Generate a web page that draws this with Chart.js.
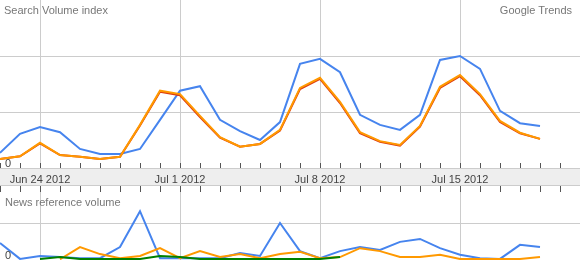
<!DOCTYPE html>
<html>
<head>
<meta charset="utf-8">
<script src="https://cdn.jsdelivr.net/npm/chart.js@4.4.0/dist/chart.umd.min.js"></script>
<style>
  body { margin: 0; background: #fff; font-family: 'Liberation Sans', Arial, sans-serif; }
  #wrap { position: relative; width: 580px; height: 260px; overflow: hidden; }
  #searchChart { position: absolute; left: 0; top: 0; }
  #newsChart { position: absolute; left: 0; top: 186px; }
  .lbl { position: absolute; font-size: 11px; color: #777; white-space: nowrap; }
  .axis { position: absolute; font-size: 11px; color: #444; white-space: nowrap; }
</style>
</head>
<body>
<div id="wrap">
  <canvas id="searchChart" width="580" height="186"></canvas>
  <canvas id="newsChart" width="580" height="74"></canvas>
  <div class="lbl" style="left:4px;top:4px">Search Volume index</div>
  <div class="lbl" style="right:8px;top:4px">Google Trends</div>
  <div class="lbl" style="left:5px;top:196px">News reference volume</div>
</div>
<script>
// days on the x axis (one point per day)
const days = [
    'Jun 22 2012', 'Jun 23 2012', 'Jun 24 2012', 'Jun 25 2012', 'Jun 26 2012', 'Jun 27 2012',
    'Jun 28 2012', 'Jun 29 2012', 'Jun 30 2012', 'Jul 1 2012', 'Jul 2 2012', 'Jul 3 2012',
    'Jul 4 2012', 'Jul 5 2012', 'Jul 6 2012', 'Jul 7 2012', 'Jul 8 2012', 'Jul 9 2012',
    'Jul 10 2012', 'Jul 11 2012', 'Jul 12 2012', 'Jul 13 2012', 'Jul 14 2012', 'Jul 15 2012',
    'Jul 16 2012', 'Jul 17 2012', 'Jul 18 2012', 'Jul 19 2012', 'Jul 20 2012', 'Jul 21 2012'
];
const tickLabels = ['Jun 24 2012', 'Jul 1 2012', 'Jul 8 2012', 'Jul 15 2012'];

// search volume index
const searchBlue = [0.27, 0.61, 0.73, 0.64, 0.34, 0.25, 0.25, 0.34, 0.86, 1.38, 1.46, 0.86, 0.66, 0.50,
    0.82, 1.86, 1.95, 1.71, 0.95, 0.77, 0.68, 0.95, 1.93, 2.00, 1.77, 1.02, 0.80, 0.75];
const searchRed = [0.16, 0.21, 0.44, 0.23, 0.20, 0.16, 0.20, 0.76, 1.36, 1.30, 0.91, 0.54, 0.38, 0.43,
    0.67, 1.41, 1.59, 1.16, 0.62, 0.47, 0.40, 0.74, 1.43, 1.64, 1.30, 0.82, 0.62, 0.52];
const searchOrange = [0.16, 0.21, 0.45, 0.23, 0.20, 0.16, 0.20, 0.77, 1.38, 1.32, 0.93, 0.55, 0.38, 0.43,
    0.68, 1.43, 1.61, 1.18, 0.64, 0.48, 0.41, 0.75, 1.45, 1.66, 1.32, 0.84, 0.63, 0.52];

// news reference volume
const newsBlue = [0.46, 0.03, 0.11, 0.08, 0.05, 0.05, 0.35, 1.32, 0.05, 0.05, 0.05, 0.05, 0.19, 0.11,
    1.00, 0.24, 0.05, 0.24, 0.35, 0.27, 0.49, 0.57, 0.32, 0.14, 0.05, 0.03, 0.41, 0.35];
const newsOrange = [null, null, null, 0.02, 0.35, 0.16, 0.05, 0.11, 0.32, 0.05, 0.24, 0.08, 0.16, 0.05,
    0.16, 0.22, 0.05, 0.08, 0.32, 0.24, 0.08, 0.08, 0.14, 0.03, 0.03, 0.03, 0.03, 0.08];
const newsGreen = [null, null, 0.03, 0.08, 0.03, 0.03, 0.03, 0.03, 0.11, 0.08, 0.03, 0.03, 0.03, 0.03,
    0.03, 0.03, 0.03, 0.08];

const gridColor = '#cccccc';
const wrap = document.getElementById('wrap');

// grey date band under the search chart
const bandPlugin = {
    id: 'band',
    beforeDraw(chart) {
        const { ctx, chartArea } = chart;
        ctx.save();
        ctx.fillStyle = '#eeeeee';
        ctx.fillRect(0, chartArea.bottom, chart.width, chart.height - chartArea.bottom);
        ctx.fillStyle = gridColor;
        ctx.fillRect(0, chartArea.bottom, chart.width, 1);
        ctx.fillRect(0, chart.height - 1, chart.width, 1);
        ctx.restore();
    }
};

// small day tick marks next to the band
const tickMarks = {
    id: 'tickMarks',
    beforeDatasetsDraw(chart, args, opts) {
        const { ctx, chartArea } = chart;
        const xs = chart.scales.x;
        const y0 = opts.side === 'top' ? chartArea.bottom - 5 : chartArea.top;
        const y1 = opts.side === 'top' ? chartArea.bottom : chartArea.top + 6;
        ctx.save();
        ctx.strokeStyle = '#555';
        ctx.lineWidth = 1;
        ctx.beginPath();
        days.forEach(function(d, i) {
            const px = Math.round(xs.getPixelForValue(i)) + 0.5;
            ctx.moveTo(px, y0);
            ctx.lineTo(px, y1);
        });
        ctx.stroke();
        ctx.restore();
    }
};

function weekGrid(c) {
    return tickLabels.includes(days[c.index]) ? gridColor : 'rgba(0,0,0,0)';
}

function lineSet(data, color, order) {
    return { data: data, borderColor: color, borderWidth: 2, pointRadius: 0, tension: 0, fill: false, order: order };
}

function baseOptions(maxY, bandHeight, side) {
    return {
        responsive: false,
        animation: false,
        events: [],
        layout: { padding: 0 },
        plugins: { legend: { display: false }, tooltip: { enabled: false }, tickMarks: { side: side } },
        scales: {
            x: {
                type: 'category',
                offset: false,
                ticks: { display: false },
                grid: { drawTicks: false, color: weekGrid },
                border: { display: false },
                afterFit: function(s) { s.height = bandHeight; }
            },
            y: {
                min: 0,
                max: maxY,
                ticks: { display: false, stepSize: 1 },
                grid: {
                    drawTicks: false,
                    color: function(c) { return (c.tick.value > 0 && c.tick.value < maxY) ? gridColor : 'rgba(0,0,0,0)'; }
                },
                border: { display: false },
                afterFit: function(s) { s.width = 0; }
            }
        }
    };
}

// text label placed through the chart's scales
function addLabel(text, left, top, centered) {
    const el = document.createElement('div');
    el.className = 'axis';
    el.textContent = text;
    el.style.left = left + 'px';
    el.style.top = top + 'px';
    if (centered) el.style.transform = 'translateX(-50%)';
    wrap.appendChild(el);
}

const searchChart = new Chart(document.getElementById('searchChart').getContext('2d'), {
    type: 'line',
    data: {
        labels: days,
        datasets: [
            lineSet(searchBlue, '#4684ee', 3),
            lineSet(searchRed, '#dc3912', 2),
            lineSet(searchOrange, '#ff9900', 1)
        ]
    },
    options: baseOptions(3, 18, 'top'),
    plugins: [bandPlugin, tickMarks]
});

const newsChart = new Chart(document.getElementById('newsChart').getContext('2d'), {
    type: 'line',
    data: {
        labels: days,
        datasets: [
            lineSet(newsBlue, '#4684ee', 3),
            lineSet(newsOrange, '#ff9900', 2),
            lineSet(newsGreen, '#008000', 1)
        ]
    },
    options: baseOptions(2, 0, 'bottom'),
    plugins: [tickMarks]
});

// date labels in the band and the zero labels
const sx = searchChart.scales.x;
tickLabels.forEach(function(t) {
    addLabel(t, sx.getPixelForValue(days.indexOf(t)), searchChart.chartArea.bottom + 5, true);
});
addLabel('0', 5, searchChart.scales.y.getPixelForValue(0) - 11, false);
addLabel('0', 5, 186 + newsChart.scales.y.getPixelForValue(0) - 11, false);
</script>
</body>
</html>
